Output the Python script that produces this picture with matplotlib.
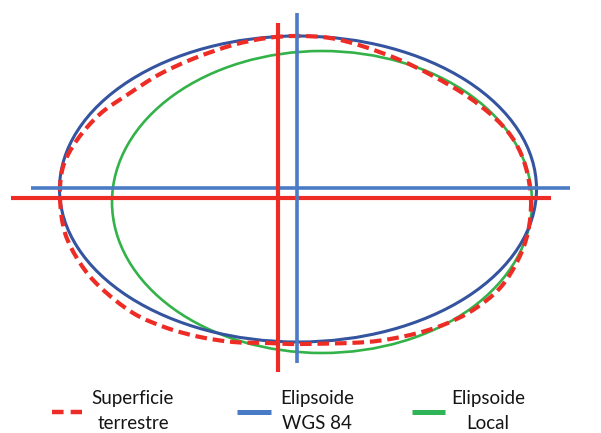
import numpy as np
import matplotlib.pyplot as plt
from matplotlib.patches import Ellipse, PathPatch
from matplotlib.path import Path

# diagram drawn in pixel coordinates of the original picture (y grows downward)
W, H = 601, 433

RED = '#ee2c26'
BLUE_LINE = '#4a7bc5'
BLUE_ELL = '#34549f'
GREEN = '#33b24a'

# WGS 84 ellipse: centre, width, height
wgs_center = (298, 189)
wgs_size = (477, 306)
# local ellipse
local_center = (322, 202)
local_size = (420, 302)

# earth surface contour, points read clockwise (on screen) from the right end
surf_x = [531, 528, 518, 500, 473, 443, 410, 367, 300, 267, 233, 200, 167, 133, 100, 80, 65,
          60, 63, 77, 100, 127, 160, 195, 233, 267, 297, 330, 362, 400, 433, 467, 497, 515, 526]
surf_y = [200, 232, 260, 288, 310, 325, 335, 342, 344, 343, 342, 337, 328, 313, 287, 263, 233,
          198, 167, 140, 114, 95, 74, 58, 45, 38, 36, 38, 46, 60, 76, 96, 120, 142, 168]

# axis lines: (x0, x1, y0, y1)
red_hline = (11, 551, 198, 198)
blue_hline = (31, 570, 188, 188)
red_vline = (278, 278, 23, 372)
blue_vline = (297, 297, 13, 363)

legend_labels = ['Superficie\nterrestre', 'Elipsoide\nWGS 84', 'Elipsoide\nLocal']
legend_handle_x = [(52, 82), (237, 271), (412, 445)]
legend_text_x = [133, 317, 488]


def smooth_closed(xs, ys):
    # closed catmull-rom curve turned into cubic bezier segments
    p = np.column_stack([xs, ys]).astype(float)
    n = len(p)
    verts = [p[0]]
    codes = [Path.MOVETO]
    for i in range(n):
        p0, p1, p2, p3 = p[i - 1], p[i], p[(i + 1) % n], p[(i + 2) % n]
        c1 = p1 + (p2 - p0) / 6.0
        c2 = p2 - (p3 - p1) / 6.0
        verts += [c1, c2, p2]
        codes += [Path.CURVE4] * 3
    return Path(verts, codes)


fig = plt.figure(figsize=(W / 100, H / 100), dpi=100)
ax = fig.add_axes([0, 0, 1, 1])
ax.set_xlim(0, W)
ax.set_ylim(H, 0)
ax.axis('off')

ax.add_patch(Ellipse(local_center, *local_size, fill=False, ec=GREEN, lw=1.9, zorder=2))
ax.add_patch(Ellipse(wgs_center, *wgs_size, fill=False, ec=BLUE_ELL, lw=2.2, zorder=3))
ax.add_patch(PathPatch(smooth_closed(surf_x, surf_y), fill=False, ec=RED, lw=3.0,
                       linestyle=(0, (2.8, 1.4)), zorder=4))

for (x0, x1, y0, y1), c, lw in [(blue_hline, BLUE_LINE, 2.6), (red_hline, RED, 3.0),
                                (red_vline, RED, 3.0), (blue_vline, BLUE_LINE, 2.6)]:
    ax.plot([x0, x1], [y0, y1], color=c, lw=lw, solid_capstyle='butt', zorder=5)

# legend row
styles = [dict(color=RED, lw=3.2, linestyle=(0, (2.6, 1.6))),
          dict(color=BLUE_LINE, lw=3.6),
          dict(color='#2fb457', lw=3.6)]
for (hx0, hx1), tx, lab, st in zip(legend_handle_x, legend_text_x, legend_labels, styles):
    ax.plot([hx0, hx1], [412, 412], solid_capstyle='butt', **st)
    ax.text(tx, 411, lab, ha='center', va='center', fontsize=13.5, family='Lato',
            linespacing=1.55, color='#151515')

fig.savefig('out.png', dpi=100)
